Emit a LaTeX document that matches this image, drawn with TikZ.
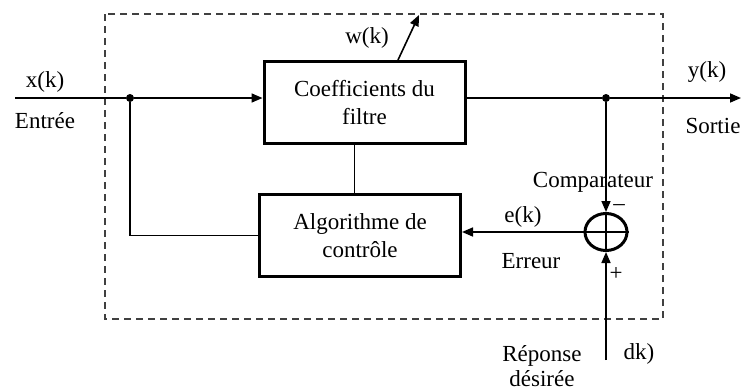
\documentclass[tikz,border=0pt]{standalone}
\usepackage{fontspec}
\setmainfont{Liberation Serif}
\usetikzlibrary{arrows.meta,shapes.geometric}
\begin{document}
\begin{tikzpicture}[x=1pt,y=-1pt,
  font=\fontsize{23}{28}\selectfont,
  blockbox/.style={draw, line width=3pt, align=center, minimum width=201pt, minimum height=82pt, inner sep=0pt},
  wire/.style={line width=1.6pt},
  tip/.style={-{Triangle[length=11pt,width=9pt]}},
  joint/.style={circle, fill, inner sep=0pt, minimum size=8pt},
  label/.style={inner sep=0pt}]
\useasboundingbox (0,0) rectangle (744,391);

% frame of the adaptive filter
\draw[line width=1.8pt, dash pattern=on 7pt off 5pt, black!75] (105,14) rectangle (663,319);

% blocks
\node[blockbox] (coef) at (364.5,102.5) {Coefficients du\\filtre};
\node[blockbox] (algo) at (360,235.5) {Algorithme de\\contrôle};
\node[ellipse, draw, line width=3pt, minimum width=42pt, minimum height=37pt, inner sep=0pt] (cmp) at (606,232) {};
\draw[wire] (cmp.north) -- (cmp.south) (cmp.west) -- (cmp.east);

% labels
\node[label] (xk) at (45,82) {x(k)};
\node[label] (ent) at (45,121) {Entrée};
\node[label] (wkl) at (367,38) {w(k)};
\node[label] (yk) at (707,72) {y(k)};
\node[label] (sor) at (713,126) {Sortie};
\node[label] (comp) at (593,182) {Comparateur};
\node[label, text height=2pt, text depth=0pt] (minus) at (619,209) {–};
\node[label] (ek) at (523,217) {e(k)};
\node[label] (err) at (531,261) {Erreur};
\node[label] (plus) at (616,274) {+};
\node[label, align=center] (rep) at (542,366) {Réponse\\[-3pt]désirée};
\node[label] (dk) at (639,354) {dk)};

% signal path
\coordinate (in) at (15,98);
\node[joint] (j1) at (130,98) {};
\node[joint] (j2) at (606,98) {};
\coordinate (out) at (741,98);
\coordinate (wk) at (419,15);
\coordinate (dsrc) at (606,360);

\draw[wire] (in) -- (j1);
\draw[wire, tip] (j1) -- (j1 -| coef.west);
\draw[wire] (coef.east |- j2) -- (j2);
\draw[wire, tip] (j2) -- (out);
\draw[wire, tip] ([xshift=33.5pt]coef.north) -- (wk);
\draw[wire] ([xshift=-10pt]coef.south) -- ([xshift=-10pt]coef.south |- algo.north);
\draw[wire] (j1) |- (algo.west);
\draw[wire, tip] (j2) -- (cmp.north);
\draw[wire, tip] (dsrc) -- (cmp.south);
\draw[wire, tip] (cmp.west) -- (algo.east |- cmp.west);
\end{tikzpicture}
\end{document}
